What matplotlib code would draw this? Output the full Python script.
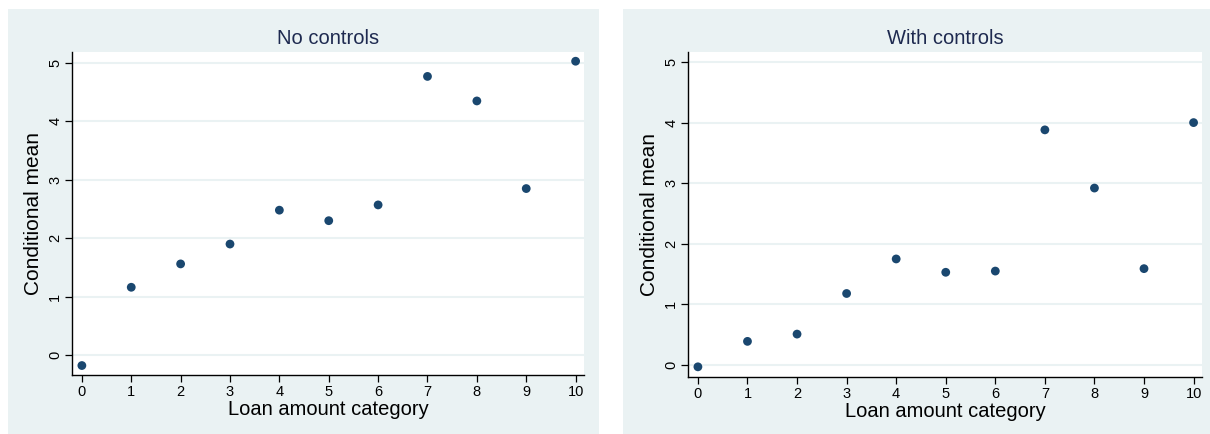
import numpy as np
import matplotlib
matplotlib.use("Agg")
import matplotlib.pyplot as plt
from matplotlib.patches import Rectangle

plt.rcParams['font.family'] = ['Liberation Sans', 'DejaVu Sans']

# loan amount categories
categories = np.arange(0, 11)
# conditional means
no_controls = [-0.18, 1.16, 1.56, 1.90, 2.48, 2.30, 2.57, 4.77, 4.35, 2.85, 5.03]
with_controls = [-0.03, 0.39, 0.51, 1.18, 1.75, 1.53, 1.55, 3.88, 2.92, 1.59, 4.00]
titles = ["No controls", "With controls"]
yticks = [0, 1, 2, 3, 4, 5]

bg = '#eaf2f3'
navy = '#1a476f'
title_col = '#1e2a50'

fig = plt.figure(figsize=(12.10, 4.34), dpi=100)

# panel backgrounds (x0, width) in pixels
W, H = 1210, 434
panels = [(8, 591), (623, 587)]
for x0, w in panels:
    fig.add_artist(Rectangle((x0 / W, 0), w / W, 1 - 9 / H,
                             transform=fig.transFigure, facecolor=bg,
                             edgecolor='none', zorder=-10))

# axes rectangles [left, bottom, width, height]
rects = [[72 / W, 1 - 375 / H, 512 / W, 323 / H],
         [688 / W, 1 - 377 / H, 514 / W, 325 / H]]
ylims = [(-0.342, 5.188), (-0.198, 5.165)]
data = [no_controls, with_controls]

for rect, ylim, vals, ttl in zip(rects, ylims, data, titles):
    ax = fig.add_axes(rect)
    ax.set_zorder(5)
    ax.set_facecolor('white')
    ax.scatter(categories, vals, s=40, color=navy, zorder=3, edgecolors='none')
    ax.set_xlim(-0.2, 10.17)
    ax.set_ylim(*ylim)
    ax.set_xticks(categories)
    ax.set_yticks(yticks)
    ax.yaxis.grid(True, color=bg, linewidth=1.5)
    ax.set_axisbelow(True)
    for side in ['top', 'right']:
        ax.spines[side].set_visible(False)
    for side in ['left', 'bottom']:
        ax.spines[side].set_linewidth(1.0)
        ax.spines[side].set_color('black')
    ax.tick_params(axis='both', length=5, width=0.9, labelsize=10.5, pad=2)
    ax.tick_params(axis='y', labelrotation=90)
    for lab in ax.get_yticklabels():
        lab.set_verticalalignment('center')
    ax.set_xlabel("Loan amount category", fontsize=14.5, labelpad=1)
    ax.set_ylabel("Conditional mean", fontsize=15, labelpad=4)
    ax.set_title(ttl, fontsize=14.5, color=title_col, pad=6)

fig.savefig("out.png", dpi=100)
